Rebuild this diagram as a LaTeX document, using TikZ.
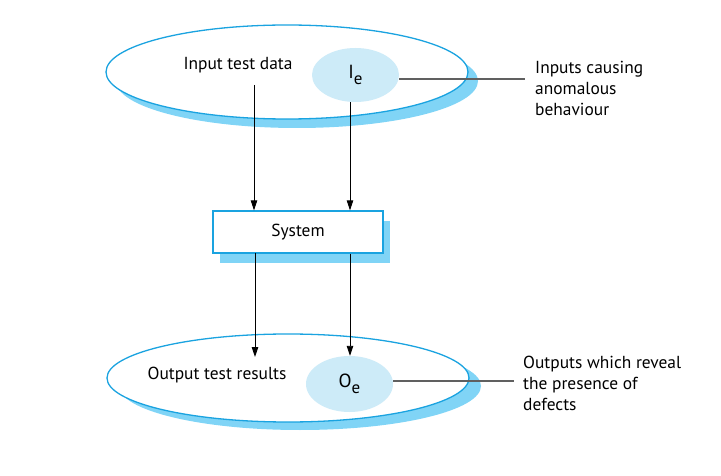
\documentclass[tikz,border=0pt]{standalone}
\usepackage{fontspec}
\setmainfont{PT Sans}
\usetikzlibrary{arrows.meta,shapes.geometric}
\definecolor{rim}{HTML}{1AA3E0}
\definecolor{shade}{HTML}{80D4F6}
\definecolor{spot}{HTML}{CDEBF8}
\definecolor{lead}{HTML}{606060}
\tikzset{
  txt/.style={font=\fontsize{17.4}{21}\selectfont, inner sep=0pt},
  flow/.style={draw=black, line width=0.9pt, -{Triangle[length=10pt,width=6.5pt]}},
  leader/.style={draw=lead, line width=1.2pt},
  region/.style={ellipse, draw=rim, line width=1.3pt, fill=white, inner sep=0pt},
  regionshadow/.style={ellipse, fill=shade, draw=none, inner sep=0pt},
  subset/.style={ellipse, fill=spot, draw=none, inner sep=0pt, font=\fontsize{19}{22}\selectfont},
  sysbox/.style={rectangle, draw=rim, line width=1.3pt, fill=white, minimum width=170pt, minimum height=42pt, font=\fontsize{17.4}{20}\selectfont},
  sysshadow/.style={rectangle, fill=shade, minimum width=170pt, minimum height=42pt},
}
\begin{document}
\begin{tikzpicture}[x=1pt,y=-1pt]
\useasboundingbox (0,0) rectangle (721,476);
% input domain
\node[regionshadow, minimum width=362pt, minimum height=94pt] at (297,81) {};
\node[region, minimum width=362pt, minimum height=94pt] (inset) at (287,72) {};
\node[subset, minimum width=87pt, minimum height=54pt] (ie) at (355.5,75) {I\raisebox{-0.3em}{\fontsize{17}{17}\selectfont e}};
\node[txt] (intxt) at (238,65) {Input test data};
% system
\node[sysshadow] at (305,242) {};
\node[sysbox] (sys) at (298,232) {System};
% output domain
\node[regionshadow, minimum width=362pt, minimum height=88pt] at (300,386) {};
\node[region, minimum width=362pt, minimum height=88pt] (outset) at (288,378) {};
\node[subset, minimum width=87pt, minimum height=56pt] (oe) at (349.5,384) {O\raisebox{-0.3em}{\fontsize{17}{17}\selectfont e}};
\node[txt] (outtxt) at (217,375) {Output test results};
% side labels
\node[txt, anchor=north west, align=left] (inlab) at (535,61) {Inputs causing\\anomalous\\behaviour};
\node[txt, anchor=north west, align=left] (outlab) at (523,356) {Outputs which reveal\\the presence of\\defects};
\coordinate (inend) at (525,79);
\coordinate (outend) at (514,381);
% connectors
\coordinate (a1) at (254,85);
\draw[flow] (a1) -- (a1 |- sys.north);
\draw[flow] (ie.south -| 350,0) -- (sys.north -| 350,0);
\coordinate (b1) at (255,253);
\draw[flow] (b1) -- (255,357);
\draw[flow] (sys.south -| 350,0) -- (oe.north -| 350,0);
\draw[leader] (ie.east |- inend) -- (inend);
\draw[leader] (oe.east |- outend) -- (outend);
\end{tikzpicture}
\end{document}
